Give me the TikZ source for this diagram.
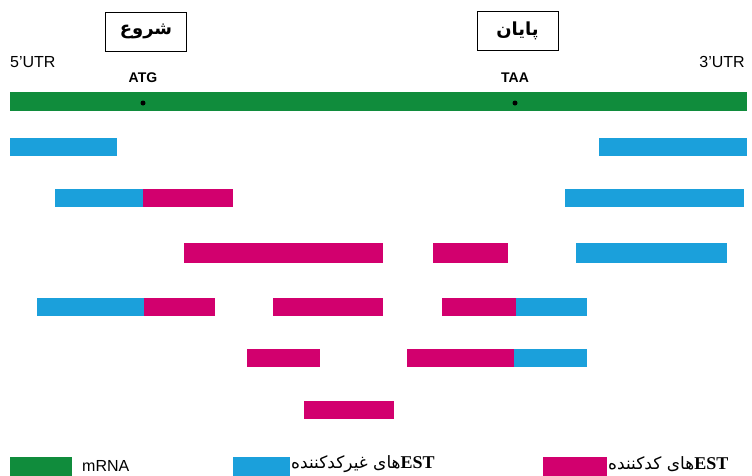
\documentclass[tikz,border=0pt]{standalone}
\usepackage{fontspec}
\setmainfont{Liberation Sans}
\newfontfamily\arabicfont[Script=Arabic]{DejaVu Sans}
\newfontfamily\estfont{Liberation Serif}
\TeXXeTstate=1
\definecolor{mgreen}{RGB}{16,140,60}
\definecolor{mblue}{RGB}{27,160,219}
\definecolor{mmag}{RGB}{210,0,110}
\tikzset{
  gbar/.style={fill=mgreen},
  bbar/.style={fill=mblue},
  pbar/.style={fill=mmag},
  labelbox/.style={draw=black, line width=0.8pt, minimum width=81pt, minimum height=39pt, inner sep=0pt, font=\arabicfont\bfseries\fontsize{18}{21}\selectfont},
  utr/.style={font=\fontsize{16}{19}\selectfont, inner sep=0pt},
  codon/.style={font=\bfseries\fontsize{14}{17}\selectfont, inner sep=0pt},
  legtext/.style={inner sep=0pt, font=\arabicfont\fontsize{17}{20}\selectfont},
  dotmark/.style={fill=black, circle, inner sep=0pt, minimum size=5pt}
}
\begin{document}
\begin{tikzpicture}[x=1pt,y=-1pt]
\useasboundingbox (0,0) rectangle (752,475);
% boxes
\node[labelbox] (start) at (146,31.5) {\beginR شروع\endR};
\node[labelbox] (stop) at (517.5,30.5) {\beginR پایان\endR};
% UTR labels
\node[utr, anchor=west] (utr5) at (10,62) {5’UTR};
\node[utr, anchor=east] (utr3) at (745,62) {3’UTR};
\node[codon] (atg) at (143,78) {ATG};
\node[codon] (taa) at (515,78) {TAA};
% mRNA
\fill[gbar] (10,92) rectangle (747,111);
\node[dotmark] (d1) at (143,103) {};
\node[dotmark] (d2) at (515,103) {};
% row 1
\fill[bbar] (10,138) rectangle (117,156);
\fill[bbar] (599,138) rectangle (747,156);
% row 2
\fill[bbar] (55,189) rectangle (143,207);
\fill[pbar] (143,189) rectangle (233,207);
\fill[bbar] (565,189) rectangle (744,207);
% row 3
\fill[pbar] (184,243) rectangle (383,263);
\fill[pbar] (433,243) rectangle (508,263);
\fill[bbar] (576,243) rectangle (727,263);
% row 4
\fill[bbar] (37,298) rectangle (144,316);
\fill[pbar] (144,298) rectangle (215,316);
\fill[pbar] (273,298) rectangle (383,316);
\fill[pbar] (442,298) rectangle (516,316);
\fill[bbar] (516,298) rectangle (587,316);
% row 5
\fill[pbar] (247,349) rectangle (320,367);
\fill[pbar] (407,349) rectangle (514,367);
\fill[bbar] (514,349) rectangle (587,367);
% row 6
\fill[pbar] (304,401) rectangle (394,419);
% legend
\fill[gbar] (10,457) rectangle (72,476);
\node[utr, anchor=base west] (lmrna) at (82,471) {mRNA};
\fill[bbar] (233,457) rectangle (290,476);
\node[legtext, anchor=west] (lnon) at (291,464) {\beginR{\estfont\bfseries\fontsize{18}{20}\selectfont\beginL EST\endL}های غیرکدکننده\endR};
\fill[pbar] (543,457) rectangle (607,476);
\node[legtext, anchor=west] (lcod) at (608,464) {\beginR{\estfont\bfseries\fontsize{18}{20}\selectfont\beginL EST\endL}های کدکننده\endR};
\end{tikzpicture}
\end{document}
